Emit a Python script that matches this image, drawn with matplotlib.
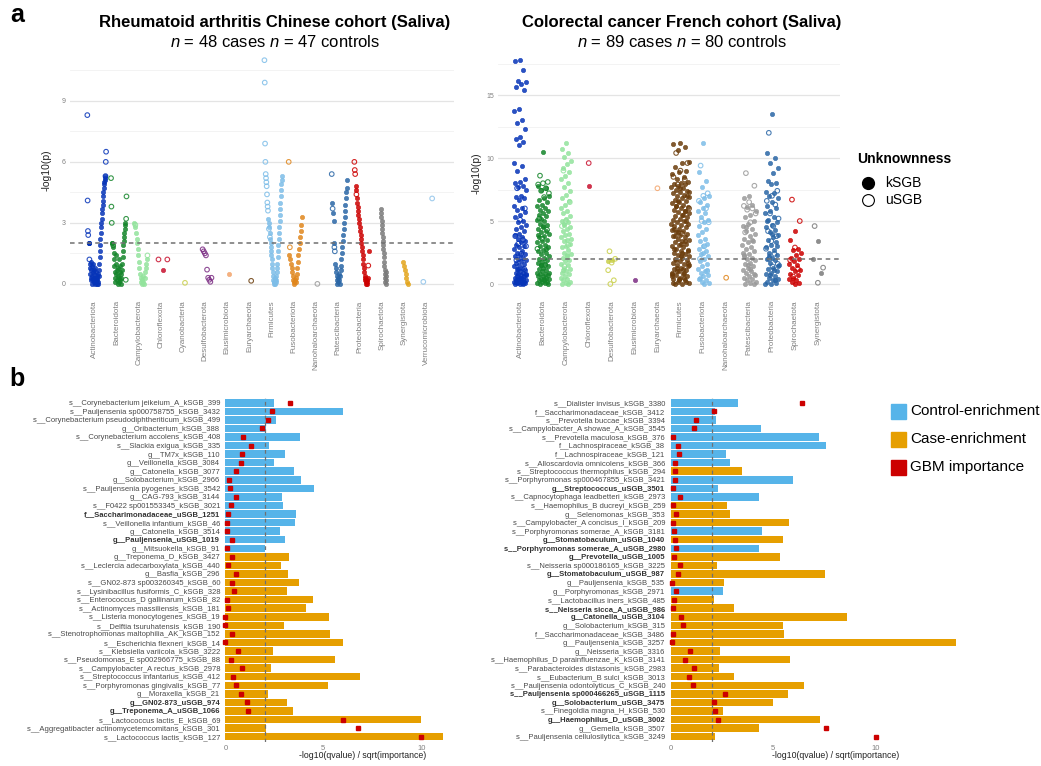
import numpy as np
import matplotlib
matplotlib.use("Agg")
import matplotlib.pyplot as plt
from matplotlib.patches import Rectangle
from matplotlib.lines import Line2D

plt.rcParams['font.family'] = ['Liberation Sans', 'DejaVu Sans']
plt.rcParams['mathtext.fontset'] = 'custom'
plt.rcParams['mathtext.rm'] = 'Liberation Sans'
plt.rcParams['mathtext.it'] = 'Liberation Sans:italic'

# ------------------------------------------------------------------ data
# panel a, Rheumatoid arthritis cohort: -log10(p) per SGB, in plotting order
# kind: k = kSGB (filled), u = uSGB (open)
ra_phyla = ['Actinobacteriota', 'Bacteroidota', 'Campylobacterota', 'Chloroflexota',
            'Cyanobacteria', 'Desulfobacterota', 'Elusimicrobiota', 'Euryarchaeota',
            'Firmicutes', 'Fusobacteriota', 'Nanohaloarchaeota', 'Patescibacteria',
            'Proteobacteria', 'Spirochaetota', 'Synergistota', 'Verrucomicrobiota']
ra_values = [
    [8.3, 4.1, 2.6, 2.4, 2.0, 2.0, 2.0, 1.2,
     1.0, 0.8, 0.5, 0.3, 1.1, 0.7, 0.2, 0.9, 0.4, 0.0, 0.6, 0.2, 1.0, 0.3, 0.1, 0.7, 0.5,
     0.0, 0.3, 0.8, 0.2, 0.6, 0.1, 0.4, 0.0, 0.3, 0.2, 0.5, 0.1, 0.0,
     0.4, 0.7, 1.0, 1.3, 1.6, 1.9, 2.2, 2.5, 2.8, 3.0, 3.2, 3.5, 3.7, 3.9, 4.1, 4.3, 4.5,
     4.7, 4.9, 5.0, 5.1, 5.2, 5.3,
     5.3, 6.0, 6.5],
    [5.2, 3.8, 3.0, 2.0, 2.0, 1.8, 1.9,
     1.5, 1.2, 0.9, 0.6, 0.3, 0.1, 1.0, 0.5, 1.4, 0.7, 0.2, 0.0, 0.4, 0.8, 1.2, 0.3, 0.1,
     0.6, 0.9, 0.2, 0.5, 0.0, 0.3, 0.7,
     1.0, 1.3, 1.6, 1.9, 2.1, 2.3, 2.5, 2.7, 2.9, 3.0,
     0.2, 3.2, 4.3],
    [3.0, 2.8, 2.9,
     2.5, 2.2, 2.0, 1.7, 1.4, 1.1, 0.8, 0.5, 0.3, 0.1, 0.0, 0.2, 0.1, 0.4, 0.0, 0.3, 0.6,
     0.8, 1.0, 1.2,
     1.4],
    [1.2, 0.7, 1.2],
    [0.05],
    [1.7, 1.6, 1.5, 1.4, 0.7, 0.3, 0.2, 0.1, 0.3],
    [0.5],
    [0.15],
    [11.0, 9.9, 6.9, 6.0, 5.4, 5.2, 5.0, 4.8, 4.4, 4.0, 3.8, 3.6,
     3.2, 3.0, 2.7, 2.8, 2.5, 2.3,
     2.2, 2.0, 1.8, 1.6, 1.4, 1.2, 1.0, 0.8, 0.6, 0.4,
     0.2, 0.1, 0.0, 0.1, 0.3, 0.0, 0.2, 0.1, 0.4, 0.2,
     0.6, 0.8, 1.0, 1.3, 1.6, 1.9, 2.2, 2.5, 2.8, 3.1,
     3.4, 3.7, 4.0, 4.3, 4.6, 4.9, 5.1, 5.3],
    [6.0, 1.4, 1.8,
     1.2, 1.0, 0.8, 0.6, 0.4, 0.2, 0.1, 0.0, 0.2, 0.1, 0.3, 0.5, 0.8, 1.1, 1.4, 1.7, 2.0,
     2.3, 2.6, 2.9, 3.3],
    [0.0],
    [5.4, 4.0, 3.7, 3.5, 3.1, 2.0, 1.8, 1.6,
     1.0, 0.8, 0.6, 0.4, 0.2, 0.0, 0.3, 0.1, 0.5, 0.2, 0.0, 0.4, 0.7, 0.9, 1.2, 1.5,
     1.8, 2.1, 2.4, 2.7, 3.0, 3.3, 3.6, 3.9, 4.2, 4.5, 4.7, 5.1],
    [6.0, 5.6, 5.4, 4.8, 4.6, 4.4,
     4.2, 4.0, 3.8, 3.6, 3.4, 3.2, 3.0, 2.8, 2.6, 2.4,
     2.2, 2.0, 1.8, 1.6, 1.4, 1.2, 1.0, 0.8, 0.6, 0.4,
     0.3, 0.2, 0.1, 0.0, 0.2, 0.1, 0.0, 0.3,
     0.9, 1.6],
    [3.7, 3.5, 3.3, 3.1, 2.9, 2.7, 2.5, 2.3, 2.1, 1.9, 1.7, 1.5, 1.3, 1.1, 0.9, 0.7,
     0.5, 0.3, 0.1, 0.0, 0.2, 0.4, 0.6],
    [1.1, 0.9, 0.7, 0.5, 0.3, 0.1, 0.0],
    [0.1, 4.2],
]
ra_kind = [
    "uuuukkku" + "k" * 53 + "uuu",
    "uuukkku" + "k" * 34 + "uuu",
    "kku" + "k" * 20 + "u",
    "uku",
    "u",
    "uuuuuuuuu",
    "k",
    "u",
    "u" * 12 + "kkukku" + "k" * 38,
    "uku" + "k" * 21,
    "u",
    "ukukkkuu" + "k" * 28,
    "uuukku" + "k" * 28 + "uk",
    "k" * 23,
    "k" * 7,
    "uu",
]

# panel a, Colorectal cancer cohort
crc_phyla = ['Actinobacteriota', 'Bacteroidota', 'Campylobacterota', 'Chloroflexota',
             'Desulfobacterota', 'Elusimicrobiota', 'Euryarchaeota', 'Firmicutes',
             'Fusobacteriota', 'Nanohaloarchaeota', 'Patescibacteria', 'Proteobacteria',
             'Spirochaetota', 'Synergistota']
crc_ksgb = [
    [17.8, 17.7, 17.0, 16.1, 16.0, 15.9, 15.6, 15.4, 13.9, 13.7, 13.0, 12.8, 12.3, 11.7,
     11.5, 11.3, 11.0, 9.6, 9.4, 9.0, 8.3, 8.1, 8.0, 7.8, 7.7, 7.5, 7.0, 6.9, 6.8, 6.7,
     6.2, 6.0, 5.9, 5.7, 5.5, 5.3, 5.0, 4.9, 4.7, 4.5, 4.4, 4.2, 4.0, 3.9, 3.7, 3.6, 3.4,
     3.3, 3.1, 3.0, 2.9, 2.8, 2.6, 2.5, 2.4, 2.3, 2.2, 2.1, 2.0, 1.9, 1.8, 1.7, 1.6, 1.5,
     1.4, 1.3, 1.2, 1.1, 1.0, 0.9, 0.9, 0.8, 0.7, 0.7, 0.6, 0.6, 0.5, 0.5, 0.4, 0.4, 0.3,
     0.3, 0.3, 0.2, 0.2, 0.2, 0.1, 0.1, 0.1, 0.0, 0.0, 0.0, 1.2, 0.8, 0.5, 0.2],
    [10.5, 7.8, 7.6, 7.5, 7.0, 6.8, 6.7, 6.5, 6.3, 6.2, 6.0, 5.9, 5.8, 5.6, 5.5, 5.4,
     5.2, 5.1, 5.0, 4.8, 4.7, 4.5, 4.4, 4.2, 4.1, 4.0, 3.8, 3.7, 3.5, 3.4, 3.3, 3.1, 3.0,
     2.9, 2.7, 2.6, 2.5, 2.4, 2.2, 2.1, 2.0, 1.9, 1.8, 1.7, 1.6, 1.5, 1.4, 1.3, 1.2, 1.1,
     1.0, 0.9, 0.8, 0.8, 0.7, 0.6, 0.6, 0.5, 0.4, 0.4, 0.3, 0.3, 0.2, 0.2, 0.1, 0.1, 0.0,
     0.0, 4.6, 3.9, 2.8, 1.5, 0.9, 0.4],
    [11.2, 10.7, 10.4, 10.1, 9.8, 9.5, 9.2, 8.9, 8.6, 8.3, 8.0, 7.7, 7.4, 7.1, 6.8, 6.6,
     6.3, 6.0, 5.8, 5.6, 5.4, 5.2, 5.0, 4.9, 4.7, 4.5, 4.4, 4.2, 4.0, 3.9, 3.7, 3.5, 3.4,
     3.2, 3.0, 2.9, 2.7, 2.5, 2.4, 2.2, 2.1, 1.9, 1.8, 1.6, 1.5, 1.3, 1.2, 1.0, 0.9, 0.8,
     0.6, 0.5, 0.4, 0.3, 0.2, 0.1, 0.0, 0.0, 4.8, 3.6, 2.3, 1.1],
    [7.8],
    [1.9, 1.8],
    [0.35],
    [],
    [11.2, 11.1, 10.9, 10.6, 9.7, 9.6, 9.3, 9.0, 8.9, 8.7, 8.5, 8.3, 8.1, 8.0, 7.9, 7.9,
     7.8, 7.7, 7.6, 7.5, 7.4, 7.3, 7.2, 7.1, 7.0, 6.9, 6.8, 6.7, 6.6, 6.5, 6.4, 6.3, 6.2,
     6.1, 6.0, 5.9, 5.8, 5.7, 5.6, 5.5, 5.4, 5.3, 5.2, 5.1, 5.0, 4.9, 4.8, 4.7, 4.6, 4.5,
     4.4, 4.3, 4.2, 4.1, 4.0, 3.9, 3.8, 3.7, 3.6, 3.5, 3.4, 3.3, 3.2, 3.1, 3.0, 2.9, 2.8,
     2.7, 2.6, 2.5, 2.4, 2.3, 2.2, 2.1, 2.0, 1.9, 1.8, 1.7, 1.6, 1.5, 1.4, 1.3, 1.2, 1.1,
     1.0, 0.9, 0.8, 0.7, 0.6, 0.5, 0.4, 0.3, 0.2, 0.1, 0.0, 0.0, 0.2, 0.4, 0.6, 0.9, 1.3,
     1.7, 2.2, 2.8, 3.4, 4.1, 4.8, 5.5, 6.2, 7.0, 7.6, 0.1, 0.5, 1.0, 1.5, 2.5, 3.8, 5.0,
     0.3, 0.8, 1.2, 1.9, 2.6, 3.2, 4.4, 5.8, 6.6, 7.3],
    [11.2, 8.9, 8.2, 7.7, 7.0, 6.8, 6.5, 6.3, 6.0, 5.8, 5.6, 5.3, 5.1, 4.9, 4.6, 4.4,
     4.1, 3.9, 3.6, 3.4, 3.2, 3.0, 2.8, 2.6, 2.4, 2.2, 2.0, 1.8, 1.6, 1.4, 1.2, 1.0, 0.9,
     0.7, 0.6, 0.4, 0.3, 0.2, 0.1, 0.0, 0.5, 1.1, 2.5],
    [],
    [7.0, 6.8, 6.3, 6.1, 5.8, 5.5, 5.3, 5.0, 4.8, 4.6, 4.4, 4.2, 4.0, 3.8, 3.6, 3.4, 3.3,
     3.1, 2.9, 2.8, 2.6, 2.4, 2.3, 2.1, 2.0, 1.9, 1.7, 1.6, 1.4, 1.3, 1.1, 1.0, 0.9, 0.8,
     0.6, 0.5, 0.4, 0.3, 0.2, 0.1, 0.0, 0.0, 1.5, 2.5, 3.5, 4.5, 0.7, 1.2, 2.2],
    [13.5, 10.4, 10.0, 9.6, 9.2, 8.8, 8.2, 8.0, 7.9, 7.3, 7.2, 7.0, 6.8, 6.5, 6.2, 6.0,
     5.8, 5.6, 5.3, 5.1, 4.9, 4.7, 4.5, 4.3, 4.1, 3.9, 3.7, 3.5, 3.3, 3.1, 2.9, 2.7, 2.5,
     2.3, 2.1, 2.0, 1.9, 1.7, 1.5, 1.3, 1.2, 1.0, 0.9, 0.8, 0.6, 0.5, 0.4, 0.3, 0.2, 0.1,
     0.0, 0.0, 1.1, 2.2, 3.0, 4.0, 5.0, 0.3, 0.7, 1.4],
    [4.2, 3.5, 2.8, 2.7, 2.5, 2.3, 2.1, 2.0, 1.8, 1.6, 1.5, 1.3, 1.1, 1.0, 0.8, 0.7, 0.5,
     0.4, 0.3, 0.2, 0.1, 0.0],
    [3.4, 2.0, 0.9],
]
crc_usgb = [
    [7.6, 6.0, 5.1, 3.8, 3.5, 3.2, 3.0, 2.4, 1.9, 1.2],
    [8.6, 8.1, 8.0, 7.9, 7.6, 7.4, 7.2, 6.9, 5.2, 4.3, 3.6, 2.8, 1.5],
    [9.0, 6.5, 5.0, 4.6, 3.1, 1.4],
    [9.6],
    [2.6, 2.0, 1.7, 1.1, 0.3, 0.0],
    [],
    [7.6],
    [10.4, 9.6, 9.0, 8.5, 8.3, 7.9, 6.0, 4.0],
    [9.4, 7.2, 7.0, 6.6, 6.0, 5.0, 4.9, 3.0, 2.0, 1.0],
    [0.5],
    [8.8, 7.8, 6.5, 6.2, 6.0, 5.9, 5.6, 4.9, 4.1],
    [12.0, 7.4, 7.0, 6.6, 6.3, 5.6, 5.2, 4.6, 4.2, 3.8, 3.4, 2.8, 2.4, 2.0, 1.6, 1.4],
    [6.7, 5.0, 2.9, 1.9, 1.2, 0.6],
    [4.6, 1.3, 0.1],
]

# panel b, Rheumatoid arthritis cohort (top to bottom)
ra_taxa = ['s__Corynebacterium jeikeium_A_kSGB_399', 's__Pauljensenia sp000758755_kSGB_3432',
           's__Corynebacterium pseudodiphtheriticum_kSGB_499', 'g__Oribacterium_kSGB_388',
           's__Corynebacterium accolens_kSGB_408', 's__Slackia exigua_kSGB_335',
           'g__TM7x_kSGB_110', 'g__Veillonella_kSGB_3084', 'g__Catonella_kSGB_3077',
           'g__Solobacterium_kSGB_2966', 's__Pauljensenia pyogenes_kSGB_3542',
           'g__CAG-793_kSGB_3144', 's__F0422 sp001553345_kSGB_3021',
           'f__Saccharimonadaceae_uSGB_1251', 's__Veillonella infantium_kSGB_46',
           'g__Catonella_kSGB_3514', 'g__Pauljensenia_uSGB_1019', 'g__Mitsuokella_kSGB_91',
           'g__Treponema_D_kSGB_3427', 's__Leclercia adecarboxylata_kSGB_440',
           'g__Basfia_kSGB_296', 's__GN02-873 sp003260345_kSGB_60',
           's__Lysinibacillus fusiformis_C_kSGB_328', 's__Enterococcus_D gallinarum_kSGB_82',
           's__Actinomyces massiliensis_kSGB_181', 's__Listeria monocytogenes_kSGB_19',
           's__Delftia tsuruhatensis_kSGB_190', 's__Stenotrophomonas maltophilia_AK_kSGB_152',
           's__Escherichia flexneri_kSGB_14', 's__Klebsiella variicola_kSGB_3222',
           's__Pseudomonas_E sp002966775_kSGB_88', 's__Campylobacter_A rectus_kSGB_2978',
           's__Streptococcus infantarius_kSGB_412', 's__Porphyromonas gingivalis_kSGB_77',
           'g__Moraxella_kSGB_21', 'g__GN02-873_uSGB_974', 'g__Treponema_A_uSGB_1066',
           's__Lactococcus lactis_E_kSGB_69', 's__Aggregatibacter actinomycetemcomitans_kSGB_301',
           's__Lactococcus lactis_kSGB_127']
ra_score = [2.48, 6.0, 2.59, 2.06, 3.81, 2.23, 3.04, 2.48, 3.5, 3.86, 4.53, 2.89, 2.94,
            3.61, 3.56, 2.79, 3.04, 2.01, 3.25, 2.84, 3.2, 3.76, 3.15, 4.47, 4.12, 5.29,
            2.99, 5.34, 6.0, 2.43, 5.6, 2.33, 6.87, 5.24, 2.18, 3.15, 3.45, 9.98, 2.08, 11.1]
ra_gbm = [3.3, 2.38, 2.2, 1.87, 0.9, 1.31, 0.87, 0.79, 0.55, 0.2, 0.26, 0.56, 0.29, 0.14,
          0.1, 0.07, 0.34, 0.1, 0.34, 0.15, 0.55, 0.34, 0.44, 0.09, 0.12, 0.0, 0.0, 0.34,
          0.0, 0.66, 0.29, 0.85, 0.41, 0.56, 0.82, 1.1, 1.16, 6.0, 6.79, 10.0]
ra_group = ['control'] * 18 + ['case'] * 22

# panel b, Colorectal cancer cohort (top to bottom)
crc_taxa = ['s__Dialister invisus_kSGB_3380', 'f__Saccharimonadaceae_kSGB_3412',
            's__Prevotella buccae_kSGB_3394', 's__Campylobacter_A showae_A_kSGB_3545',
            's__Prevotella maculosa_kSGB_376', 'f__Lachnospiraceae_kSGB_38',
            'f__Lachnospiraceae_kSGB_121', 's__Alloscardovia omnicolens_kSGB_366',
            's__Streptococcus thermophilus_kSGB_294', 's__Porphyromonas sp000467855_kSGB_3421',
            'g__Streptococcus_uSGB_3501', 's__Capnocytophaga leadbetteri_kSGB_2973',
            's__Haemophilus_B ducreyi_kSGB_259', 'g__Selenomonas_kSGB_353',
            's__Campylobacter_A concisus_I_kSGB_209', 's__Porphyromonas somerae_A_kSGB_3181',
            'g__Stomatobaculum_uSGB_1040', 's__Porphyromonas somerae_A_uSGB_2980',
            'g__Prevotella_uSGB_1005', 's__Neisseria sp000186165_kSGB_3225',
            'g__Stomatobaculum_uSGB_987', 'g__Pauljensenia_kSGB_535',
            'g__Porphyromonas_kSGB_2971', 's__Lactobacillus iners_kSGB_485',
            's__Neisseria sicca_A_uSGB_986', 'g__Catonella_uSGB_3104',
            'g__Solobacterium_kSGB_315', 'f__Saccharimonadaceae_kSGB_3486',
            'g__Pauljensenia_kSGB_3257', 'g__Neisseria_kSGB_3316',
            's__Haemophilus_D parainfluenzae_K_kSGB_3141', 's__Parabacteroides distasonis_kSGB_2983',
            's__Eubacterium_B sulci_kSGB_3013', 's__Pauljensenia odontolyticus_C_kSGB_240',
            's__Pauljensenia sp000466265_uSGB_1115', 'g__Solobacterium_uSGB_3475',
            's__Finegoldia magna_H_kSGB_530', 'g__Haemophilus_D_uSGB_3002',
            'g__Gemella_kSGB_3507', 's__Pauljensenia cellulosilytica_kSGB_3249']
crc_score = [3.28, 2.16, 2.2, 4.4, 7.22, 7.56, 2.7, 2.89, 3.47, 5.96, 2.3, 4.3, 2.74, 2.89,
             5.76, 4.45, 5.47, 4.3, 5.32, 2.26, 7.52, 2.6, 2.55, 2.09, 3.08, 8.59, 5.47,
             5.52, 13.9, 2.4, 5.81, 2.35, 3.08, 6.49, 5.71, 4.98, 2.55, 7.27, 4.3, 2.16]
crc_gbm = [6.4, 2.13, 1.23, 1.15, 0.13, 0.36, 0.39, 0.23, 0.21, 0.21, 0.11, 0.47, 0.1, 0.26,
           0.13, 0.18, 0.21, 0.28, 0.18, 0.45, 0.37, 0.08, 0.28, 0.15, 0.13, 0.49, 0.58,
           0.13, 0.08, 0.96, 0.71, 1.14, 0.91, 1.1, 2.65, 2.13, 2.16, 2.3, 7.56, 10.0]
crc_group = (['control'] * 8 + ['case', 'control', 'control', 'control', 'case', 'case',
              'case', 'control', 'case', 'control', 'case', 'case', 'case', 'case',
              'control'] + ['case'] * 17)

# ------------------------------------------------------------------ style
palette = ['#0634b8', '#14852a', '#92e39c', '#c8102e', '#c9cf4a', '#7b2c83', '#f3a46b',
           '#6b3d0c', '#7dbde8', '#e0861c', '#9a9a9a', '#2a66a6', '#cc0000', '#7a7a7a',
           '#e3a51c', '#8fc3ea']
ra_width = [0.85, 0.7, 0.6, 0.4, 0, 0.4, 0, 0, 0.8, 0.6, 0, 0.7, 0.65, 0.25, 0.2, 0.4]
crc_width = [0.55, 0.55, 0.45, 0.0, 0.4, 0, 0, 0.8, 0.5, 0, 0.6, 0.6, 0.55, 0.6]
ctrl_col, case_col, gbm_col = '#56B4E9', '#E69F00', '#CC0000'

W, H = 1041, 766
fig = plt.figure(figsize=(W / 100, H / 100), dpi=100)


def box(l, t, r, b):
    return [l / W, 1 - b / H, (r - l) / W, (b - t) / H]


def dots(ax, x, y, color, hollow):
    if len(x) == 0:
        return
    if hollow:
        ax.scatter(x, y, s=11, facecolors='none', edgecolors=color, linewidths=0.8,
                   alpha=0.85, zorder=2)
    else:
        ax.scatter(x, y, s=10, color=color, linewidths=0.4, alpha=0.85, zorder=2)


def style_manhattan(ax, phyla, major, minor, ylim):
    ax.set_ylim(*ylim)
    ax.set_yticks(major)
    ax.set_yticks(minor, minor=True)
    ax.grid(axis='y', which='major', color='#e4e4e4', lw=0.9)
    ax.grid(axis='y', which='minor', color='#f1f1f1', lw=0.6)
    ax.grid(axis='x', visible=False)
    ax.set_axisbelow(True)
    for s in ax.spines.values():
        s.set_visible(False)
    ax.set_xticks(range(len(phyla)))
    ax.set_xticklabels(phyla, rotation=90, fontsize=5.8, color='#808080')
    ax.tick_params(axis='x', length=0, pad=6)
    ax.tick_params(axis='y', which='both', length=0, labelsize=5, labelcolor='#808080', pad=3)
    ax.axhline(2, color='#707070', lw=1.1, ls=(0, (3, 2.5)), zorder=3)
    ax.set_ylabel('-log10(p)', fontsize=7.5, color='#222222')
    ax.yaxis.set_label_coords(-0.047, 0.5)


# ---- a: RA Manhattan (points laid out in order within each phylum)
ax1 = fig.add_axes(box(70, 48, 454, 292))
for i, (vals, kind) in enumerate(zip(ra_values, ra_kind)):
    kind = kind.ljust(len(vals), 'k')
    n = len(vals)
    w = ra_width[i]
    xs = i + 0.08 + (np.linspace(-w / 2, w / 2, n) if n > 1 else np.zeros(1))
    vals = np.array(vals)
    hollow = np.array([c == 'u' for c in kind[:n]])
    dots(ax1, xs[~hollow], vals[~hollow], palette[i], False)
    dots(ax1, xs[hollow], vals[hollow], palette[i], True)
ax1.set_xlim(-1.13, 16.27)
style_manhattan(ax1, ra_phyla, [0, 3, 6, 9], [1.5, 4.5, 7.5, 10.5], (-0.4, 11.6))

# ---- a: CRC Manhattan (jittered strips)
ax2 = fig.add_axes(box(498, 54.7, 840, 291.6))
for i, (kv, uv) in enumerate(zip(crc_ksgb, crc_usgb)):
    w = crc_width[i]
    jk = ((np.arange(len(kv)) * 0.6180339 + 0.5) % 1 - 0.5) * w
    ju = ((np.arange(len(uv)) * 0.6180339 + 0.27) % 1 - 0.5) * w
    dots(ax2, i + jk, kv, palette[i], False)
    dots(ax2, i + ju, uv, palette[i], True)
ax2.set_xlim(-0.96, 13.97)
style_manhattan(ax2, crc_phyla, [0, 5, 10, 15], [2.5, 7.5, 12.5, 17.5], (-0.6, 18.2))

# titles
fig.text(275 / W, 1 - 22 / H, 'Rheumatoid arthritis Chinese cohort (Saliva)', ha='center',
         va='center', fontsize=12, fontweight='bold')
fig.text(275 / W, 1 - 42 / H, '$n$ = 48 cases $n$ = 47 controls', ha='center',
         va='center', fontsize=12)
fig.text(682 / W, 1 - 22 / H, 'Colorectal cancer French cohort (Saliva)', ha='center',
         va='center', fontsize=12, fontweight='bold')
fig.text(682 / W, 1 - 42 / H, '$n$ = 89 cases $n$ = 80 controls', ha='center',
         va='center', fontsize=12)
fig.text(17 / W, 1 - 15 / H, 'a', ha='center', va='center', fontsize=18, fontweight='bold')
fig.text(17 / W, 1 - 379 / H, 'b', ha='center', va='center', fontsize=18, fontweight='bold')

# unknownness legend
fig.text(857 / W, 1 - 159 / H, 'Unknownness', ha='left', va='center', fontsize=10,
         fontweight='bold')
fig.add_artist(Line2D([868 / W], [1 - 182.7 / H], marker='o', ms=8.5, color='black',
                      mfc='black', transform=fig.transFigure))
fig.add_artist(Line2D([868 / W], [1 - 200 / H], marker='o', ms=8.5, color='black',
                      mfc='white', mew=0.8, transform=fig.transFigure))
fig.text(885 / W, 1 - 182.7 / H, 'kSGB', ha='left', va='center', fontsize=10)
fig.text(885 / W, 1 - 200 / H, 'uSGB', ha='left', va='center', fontsize=10)


# ---- b: bar charts
def bars(ax, taxa, score, gbm, group, xmax):
    y = np.arange(len(taxa))
    cols = [ctrl_col if g == 'control' else case_col for g in group]
    ax.barh(y, score, height=0.88, color=cols, zorder=1)
    ax.axvline(2, color='#707070', lw=0.9, ls=(0, (3, 2.5)), zorder=2)
    ax.plot(gbm, y, ls='none', marker='s', ms=3, color=gbm_col, zorder=3)
    ax.set_xlim(-0.2, xmax)
    ax.set_ylim(len(taxa) - 0.4, -0.6)
    ax.set_yticks(y)
    ax.set_yticklabels(taxa, fontsize=5.5, color='#4a4a4a')
    for lab, t in zip(ax.get_yticklabels(), taxa):
        if 'uSGB' in t:
            lab.set_fontweight('bold')
            lab.set_color('#333333')
    ax.set_xticks([0, 5, 10])
    ax.tick_params(axis='x', length=0, pad=2, labelsize=5.5, labelcolor='#808080')
    ax.tick_params(axis='y', length=0, pad=1)
    for s in ax.spines.values():
        s.set_visible(False)


axb1 = fig.add_axes(box(221.4, 397.6, 444.8, 741.8))
bars(axb1, ra_taxa, ra_score, ra_gbm, ra_group, 11.2)
axb2 = fig.add_axes(box(666.6, 397.6, 958.1, 741.8))
bars(axb2, crc_taxa, crc_score, crc_gbm, crc_group, 14.0)
fig.text(363 / W, 1 - 756 / H, '-log10(qvalue) / sqrt(importance)', ha='center',
         va='center', fontsize=6.3, color='#222222')
fig.text(836 / W, 1 - 756 / H, '-log10(qvalue) / sqrt(importance)', ha='center',
         va='center', fontsize=6.3, color='#222222')

# bar legend
for label, col, yc in [('Control-enrichment', ctrl_col, 411), ('Case-enrichment', case_col, 439.5),
                       ('GBM importance', gbm_col, 467.5)]:
    fig.add_artist(Rectangle((891 / W, 1 - (yc + 7.5) / H), 15 / W, 15 / H, color=col,
                             transform=fig.transFigure))
    fig.text(910 / W, 1 - yc / H, label, ha='left', va='center', fontsize=11)

fig.savefig('out.png', dpi=100)
